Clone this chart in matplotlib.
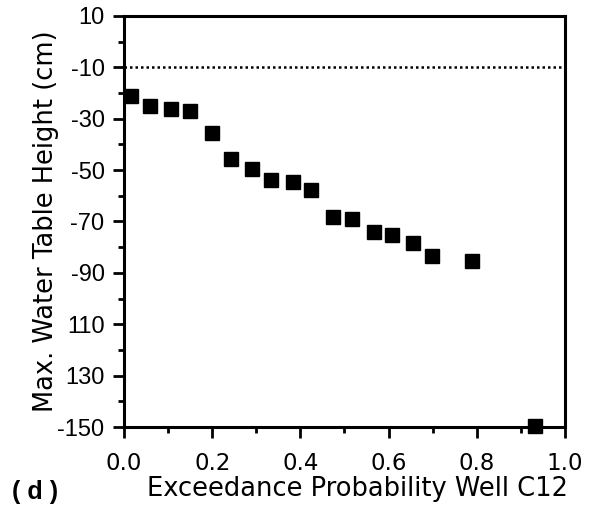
import matplotlib
matplotlib.use("Agg")
import matplotlib.pyplot as plt
from matplotlib.ticker import MultipleLocator, FixedLocator, FixedFormatter

prob = [0.015, 0.058, 0.107, 0.150, 0.199, 0.242, 0.290, 0.334, 0.383, 0.424,
        0.474, 0.516, 0.566, 0.607, 0.656, 0.699, 0.790, 0.932]
height = [-21.0, -25.0, -26.2, -27.1, -35.5, -45.7, -49.7, -53.8, -54.7, -57.8,
          -68.1, -69.1, -74.1, -75.2, -78.5, -83.5, -85.5, -149.6]
ref_level = -10
y_ticks = [10, -10, -30, -50, -70, -90, -110, -130, -150]
y_ticklabels = ["10", "-10", "-30", "-50", "-70", "-90", "110", "130", "-150"]
x_ticks = [0.0, 0.2, 0.4, 0.6, 0.8, 1.0]
x_ticklabels = ["0.0", "0.2", "0.4", "0.6", "0.8", "1.0"]

plt.rcParams['font.family'] = ['Liberation Sans', 'DejaVu Sans']

fig = plt.figure(figsize=(5.97, 5.12), dpi=100)
ax = fig.add_axes([0.2077, 0.166, 0.9464 - 0.2077, 0.969 - 0.166])

ax.plot(prob, height, linestyle='none', marker='s', markersize=10,
        color='black', clip_on=False, zorder=3)
ax.axhline(ref_level, color='black', linestyle=(0, (1, 1.2)), linewidth=1.8)

ax.set_xlim(0, 1)
ax.set_ylim(-150, 10)
ax.yaxis.set_major_locator(FixedLocator(y_ticks))
ax.yaxis.set_major_formatter(FixedFormatter(y_ticklabels))
ax.yaxis.set_minor_locator(MultipleLocator(10))
ax.xaxis.set_major_locator(FixedLocator(x_ticks))
ax.xaxis.set_major_formatter(FixedFormatter(x_ticklabels))
ax.xaxis.set_minor_locator(MultipleLocator(0.1))

for s in ax.spines.values():
    s.set_linewidth(2.2)
ax.tick_params(axis='both', which='major', direction='out', length=8, width=2,
               labelsize=17)
ax.tick_params(axis='both', which='minor', direction='out', length=4, width=2)
ax.tick_params(axis='x', which='major', pad=10)
ax.tick_params(axis='y', which='major', pad=6)
for lbl in ax.get_xticklabels():
    lbl.set_family(['DejaVu Sans'])
    lbl.set_fontsize(16.5)

ax.set_xlabel("Exceedance Probability Well C12", fontsize=18.5,
              family=['DejaVu Sans'])
ax.xaxis.set_label_coords(0.53, -0.12)
ax.set_ylabel("Max. Water Table Height (cm)", fontsize=18.5, labelpad=-1,
              family=['DejaVu Sans'])
fig.text(0.02, 0.025, "( d )", fontsize=18, fontweight='bold')

fig.savefig("out.png", dpi=100)
